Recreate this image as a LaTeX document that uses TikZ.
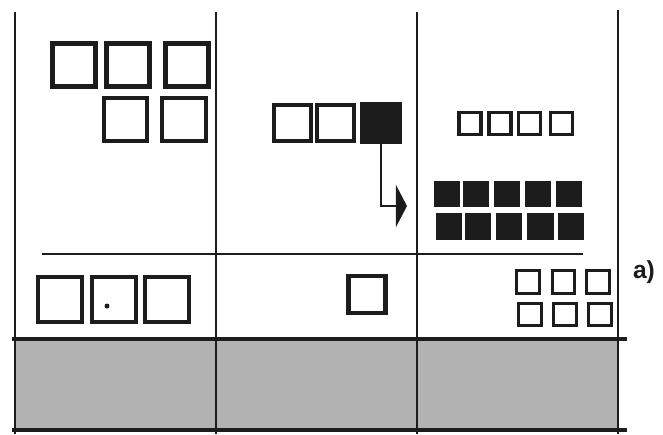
\documentclass[tikz,border=0pt]{standalone}
\usepackage{fontspec}
\setsansfont{Liberation Sans}
\usepackage{xcolor}
\definecolor{ink}{HTML}{1C1C1C}
\definecolor{basegray}{HTML}{B2B2B2}
\usepackage{tikz}
\usetikzlibrary{arrows.meta, positioning}

\tikzset{
  box/.style={draw=ink, line width=3.6pt, fill=white, inner sep=0pt, minimum size=#1},
  fullbox/.style={draw=none, fill=ink, inner sep=0pt, minimum size=#1},
  rule/.style={draw=ink, line width=1.9pt},
}

\begin{document}
\begin{tikzpicture}[x=0.03cm, y=-0.03cm]
  \useasboundingbox (0,0) rectangle (663,434);

  % shaded base strip
  \fill[basegray] (15,341) rectangle (618,428);

  % column rules
  \draw[rule] (15,12) -- (15,434);
  \draw[rule] (216,12) -- (216,434);
  \draw[rule] (417,12) -- (417,434);
  \draw[rule] (618,10) -- (618,434);
  \draw[rule, line width=1.5pt] (42,254) -- (583,254);
  \draw[rule, line width=2.8pt] (12,339) -- (627,339);
  \draw[rule, line width=2.6pt] (12,430) -- (627,430);

  % left column
  \node[box=1.29cm] (l1) at (74,65) {};
  \node[box=1.29cm] (l2) at (128,65) {};
  \node[box=1.29cm] (l3) at (187,65) {};
  \node[box=1.31cm] (l4) at (125.5,119.5) {};
  \node[box=1.31cm] (l5) at (184,119.5) {};

  \node[box=1.34cm] (b1) at (60,299.5) {};
  \node[box=1.34cm] (b2) at (114,299.5) {};
  \node[box=1.34cm] (b3) at (167,299.5) {};
  \fill[ink] (107,306) circle (2.5);

  % middle column
  \node[box=1.1cm] (m1) at (292.5,123) {};
  \node[box=1.1cm] (m2) at (335.5,123) {};
  \node[fullbox=1.24cm] (m3) at (381,123) {};
  \coordinate (tip) at (407,206);
  \draw[ink, line width=2pt, -{Triangle[length=9.5pt, width=36pt]}] (m3.south) |- (tip);

  \node[box=1.11cm] (c1) at (367,294.5) {};

  % right column
  \foreach \x [count=\i] in {470,500,529.5,561.5}
    \node[box=0.66cm, line width=2.8pt] (s\i) at (\x,123.5) {};
  \foreach \x [count=\i] in {447,476,506.5,538,569}
    \node[fullbox=0.78cm] (f\i) at (\x,194) {};
  \foreach \x [count=\i] in {449,478,509,540.5,571}
    \node[fullbox=0.79cm] (g\i) at (\x,226.5) {};
  \foreach \x [count=\i] in {528,563.5,598}
    \node[box=0.68cm, line width=2.8pt] (r\i) at (\x,282) {};
  \foreach \x [count=\i] in {530,565,600}
    \node[box=0.68cm, line width=2.8pt] (t\i) at (\x,314.5) {};

  \node[font=\sffamily\bfseries\fontsize{21pt}{24pt}\selectfont, text=ink, inner sep=0pt] (lbl) at (644,272) {a)};

\end{tikzpicture}
\end{document}
